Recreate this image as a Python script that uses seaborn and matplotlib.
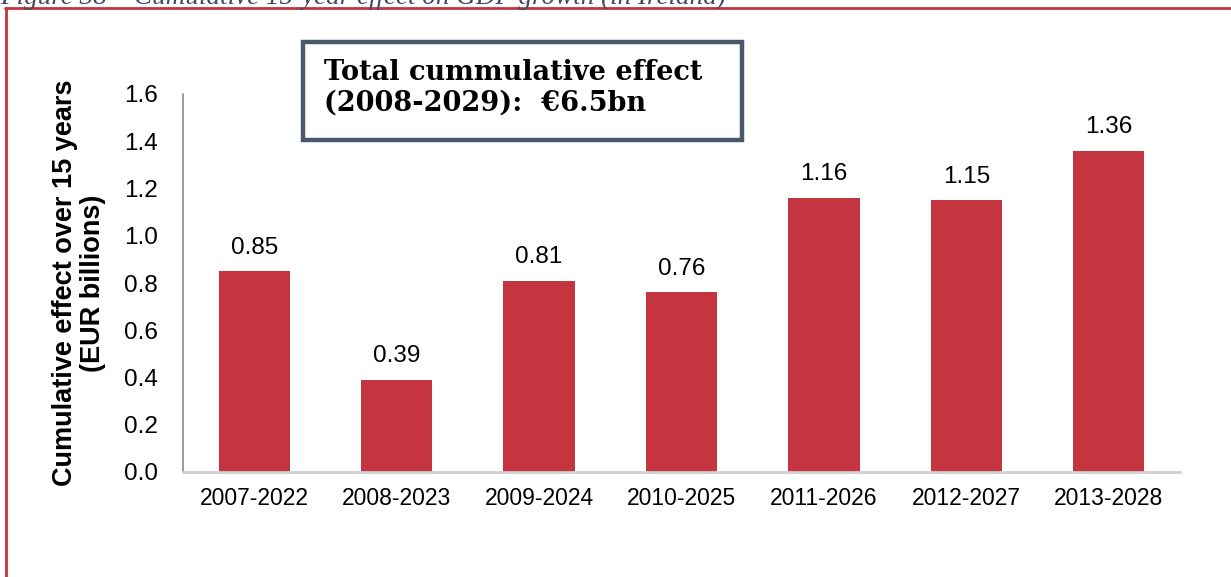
import matplotlib
matplotlib.use("Agg")
import matplotlib.pyplot as plt
import seaborn as sns
import pandas as pd
from matplotlib.patches import Rectangle
from matplotlib.lines import Line2D

periods = ["2007-2022", "2008-2023", "2009-2024", "2010-2025", "2011-2026", "2012-2027", "2013-2028"]
values = [0.85, 0.39, 0.81, 0.76, 1.16, 1.15, 1.36]
yticks = [0.0, 0.2, 0.4, 0.6, 0.8, 1.0, 1.2, 1.4, 1.6]
ylabel = "Cumulative effect over 15 years\n(EUR billions)"
box_text = "Total cummulative effect\n(2008-2029):  \u20ac6.5bn"
caption = "Figure 38 \u2013 Cumulative 15-year effect on GDP growth (in Ireland)"

sns.set_theme(style="white")
plt.rcParams["font.family"] = ["Liberation Sans", "DejaVu Sans"]
plt.rcParams["text.color"] = "black"

W, H = 1231, 577
fig = plt.figure(figsize=(W / 100, H / 100), dpi=100)
ax = fig.add_axes([183 / W, 1 - 472 / H, (1180 - 183) / W, (472 - 94) / H])

df = pd.DataFrame({"period": periods, "value": values})
sns.barplot(data=df, x="period", y="value", color="#C43540", saturation=1,
            width=0.5, ax=ax, edgecolor="none")
ax.set_xlim(-0.5, len(periods) - 0.5)
ax.set_ylim(0, 1.6)
ax.set_yticks(yticks)
ax.set_yticklabels([f"{v:.1f}" for v in yticks])
ax.tick_params(axis="y", length=0, pad=18, labelsize=17.5, colors="black")
ax.tick_params(axis="x", length=0, pad=11, labelsize=16.5, colors="black")
ax.set_xlabel("")
ax.set_ylabel(ylabel, fontsize=19.5, fontweight="bold", labelpad=13, linespacing=1.12,
              color="black")

for c in ax.containers:
    ax.bar_label(c, labels=[f"{v:.2f}" for v in values], padding=9, fontsize=17.5,
                 color="black")

for s in ["top", "right"]:
    ax.spines[s].set_visible(False)
ax.spines["left"].set_color("#8C8C8C")
ax.spines["left"].set_linewidth(1.2)
ax.spines["bottom"].set_color("#D0D0D0")
ax.spines["bottom"].set_linewidth(2)
ax.grid(False)

# Annotation box
fig.patches.append(Rectangle((303 / W, 1 - 140 / H), (742 - 303) / W, (140 - 42) / H,
                             transform=fig.transFigure, facecolor="white",
                             edgecolor="#4A586C", linewidth=3.2, zorder=5))
fig.text(324 / W, 1 - 88 / H, box_text, ha="left", va="center", fontsize=19.5,
         fontweight="bold", family=["DejaVu Serif"], linespacing=1.2, zorder=6,
         color="black")

# Red frame
fig.add_artist(Line2D([5 / W, 1], [1 - 8 / H, 1 - 8 / H], transform=fig.transFigure,
                      color="#C0343F", linewidth=2))
fig.add_artist(Line2D([6 / W, 6 / W], [0, 1 - 8 / H], transform=fig.transFigure,
                      color="#C0343F", linewidth=2))

# Clipped caption (only its lower part lies inside the picture, as in the source)
fig.text(0.0, 1 - 4 / H, caption, ha="left", va="baseline", fontsize=19.5,
         style="italic", color="#3F4A5E", family=["Liberation Serif"])

fig.savefig("out.png", dpi=100, facecolor="white")
